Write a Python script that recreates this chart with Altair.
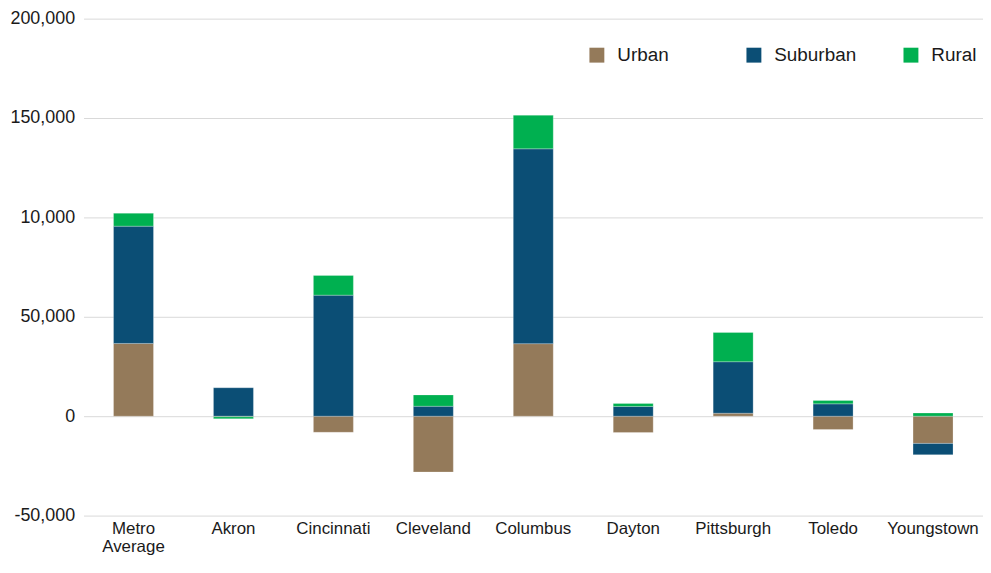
import altair as alt
import pandas as pd

categories = ["Metro Average", "Akron", "Cincinnati", "Cleveland", "Columbus",
              "Dayton", "Pittsburgh", "Toledo", "Youngstown"]
urban = [36600, -300, -8100, -28100, 36500, -8200, 1500, -6700, -13700]
suburban = [59000, 14300, 60900, 5000, 98000, 4900, 25900, 6200, -5700]
rural = [6500, -1000, 9900, 5700, 16900, 1500, 14700, 1700, 1600]

series = ["Urban", "Suburban", "Rural"]
colors = ["#947A5A", "#0B4E75", "#00B050"]

y_tick_values = [-50000, 0, 50000, 100000, 150000, 200000]
y_tick_labels = ["-50,000", "0", "50,000", "10,000", "150,000", "200,000"]

rows = []
for i, c in enumerate(categories):
    for k, (name, vals) in enumerate(zip(series, [urban, suburban, rural])):
        rows.append({"category": c, "series": name, "value": vals[i], "order": k})
df = pd.DataFrame(rows)

label_expr = " : ".join(
    f"datum.value == {v} ? '{l}'" for v, l in zip(y_tick_values, y_tick_labels)
) + " : ''"

font = "Liberation Sans"

chart = alt.Chart(df).mark_bar(stroke="#ffffff", strokeWidth=0.5, strokeOpacity=0.5).encode(
    x=alt.X("category:N", sort=categories,
            scale=alt.Scale(paddingInner=0.6, paddingOuter=0.3),
            axis=alt.Axis(title=None, labelAngle=0, domain=False, ticks=False,
                          labelFont=font, labelFontSize=17, labelColor="#1a1a1a",
                          labelPadding=5, labelLineHeight=18,
                          labelExpr="datum.label == 'Metro Average' ? ['Metro', 'Average'] : datum.label")),
    y=alt.Y("value:Q", stack="zero",
            scale=alt.Scale(domain=[-50000, 200000], nice=False),
            axis=alt.Axis(title=None, values=y_tick_values, labelExpr=label_expr,
                          domain=False, ticks=False, grid=True, gridColor="#d9d9d9",
                          gridWidth=1, labelFont=font, labelFontSize=18,
                          labelColor="#1a1a1a", labelPadding=9)),
    color=alt.Color("series:N",
                    scale=alt.Scale(domain=series, range=colors),
                    legend=alt.Legend(title=None, orient="none", direction="horizontal",
                                      legendX=507, legendY=27, padding=0,
                                      symbolType="square", symbolSize=225,
                                      symbolStrokeWidth=0, labelFont=font,
                                      labelFontSize=19, labelColor="#1a1a1a",
                                      labelOffset=11, columnPadding=45,
                                      gridAlign="all")),
    order=alt.Order("order:Q"),
).properties(
    width=905, height=500,
    autosize=alt.AutoSizeParams(type="none"),
    padding={"left": 76, "top": 9, "right": 0, "bottom": 43},
).configure_view(stroke=None)

chart.save("out.html", embed_options={"renderer": "svg", "actions": False})
